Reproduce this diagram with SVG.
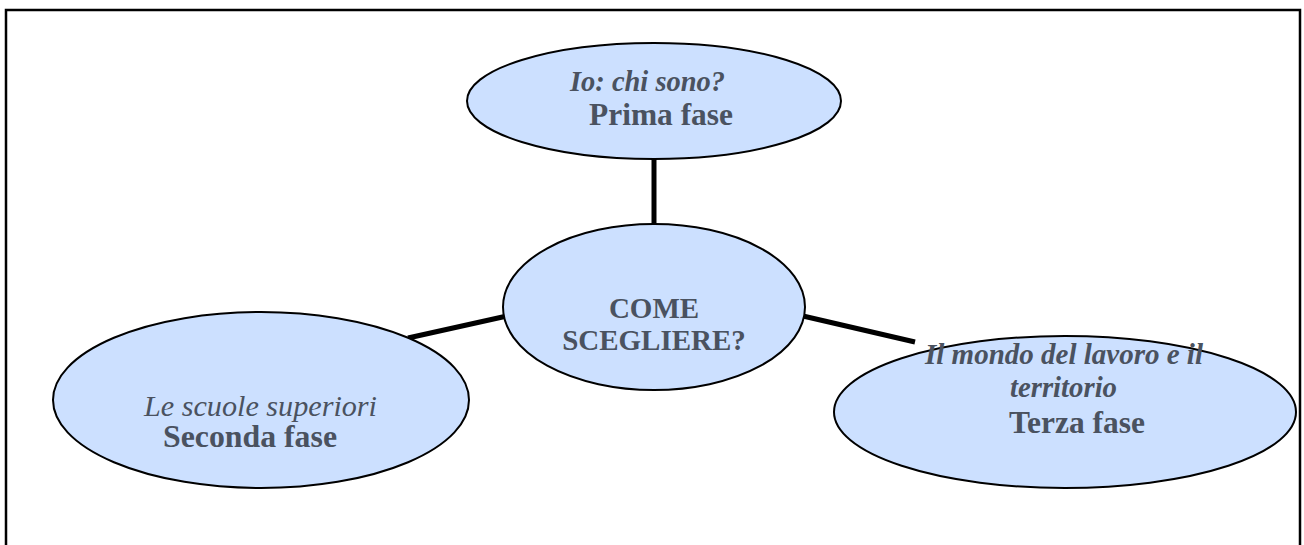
<svg xmlns="http://www.w3.org/2000/svg" width="1304" height="545" viewBox="0 0 1304 545">
<style>
.node ellipse{fill:#cce0ff;stroke:#000;stroke-width:2}
.conn line{stroke:#000;stroke-width:5}
text{font-family:"Liberation Serif","Times New Roman",serif;fill:#4a5260}
.i{font-style:italic}
.b{font-weight:bold}
</style>
<rect width="1304" height="545" fill="#fff"/>
<path d="M6,545 V10 H1300 V545" fill="none" stroke="#000" stroke-width="2.5"/>
<g class="conn" id="connectors">
<line x1="654" y1="158" x2="654" y2="226"/>
<line x1="408" y1="338" x2="507" y2="316"/>
<line x1="803" y1="316" x2="915" y2="342"/>
</g>
<g class="node" id="n-prima">
<ellipse cx="654" cy="101" rx="187" ry="58"/>
<text class="i b" x="570" y="91" font-size="28.5" textLength="155" lengthAdjust="spacingAndGlyphs">Io: chi sono?</text>
<text class="b" x="589" y="125" font-size="31.5" textLength="144" lengthAdjust="spacingAndGlyphs">Prima fase</text>
</g>
<g class="node" id="n-center">
<ellipse cx="654" cy="307" rx="151" ry="83"/>
<text class="b" x="654" y="318" font-size="29" text-anchor="middle">COME</text>
<text class="b" x="654" y="350" font-size="29" text-anchor="middle">SCEGLIERE?</text>
</g>
<g class="node" id="n-seconda">
<ellipse cx="261" cy="400" rx="208" ry="88"/>
<text class="i" x="144" y="416" font-size="30" textLength="233" lengthAdjust="spacingAndGlyphs">Le scuole superiori</text>
<text class="b" x="163" y="447" font-size="31.8" textLength="174" lengthAdjust="spacingAndGlyphs">Seconda fase</text>
</g>
<g class="node" id="n-terza">
<ellipse cx="1065" cy="412" rx="231" ry="76"/>
<text class="i b" x="925" y="364" font-size="29" textLength="278" lengthAdjust="spacingAndGlyphs">Il mondo del lavoro e il</text>
<text class="i b" x="1010" y="397" font-size="29" textLength="107" lengthAdjust="spacingAndGlyphs">territorio</text>
<text class="b" x="1009" y="433" font-size="31" textLength="136" lengthAdjust="spacingAndGlyphs">Terza fase</text>
</g>
</svg>
